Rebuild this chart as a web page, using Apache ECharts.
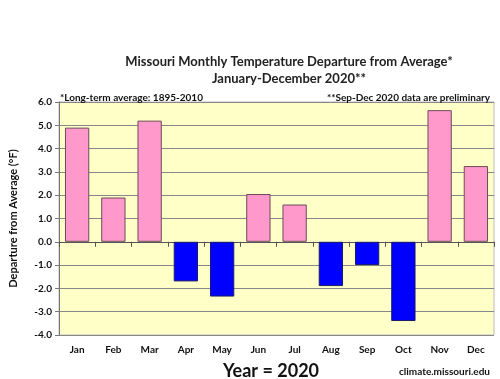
<!DOCTYPE html>
<html><head><meta charset="utf-8">
<script src="https://cdn.jsdelivr.net/npm/echarts@6/dist/echarts.min.js"></script>
<style>html,body{margin:0;padding:0;background:#fff}#c{width:500px;height:379px}</style>
</head><body><div id="c"></div>
<script>
const months = ['Jan','Feb','Mar','Apr','May','Jun','Jul','Aug','Sep','Oct','Nov','Dec'];
const departures = [4.9, 1.9, 5.2, -1.7, -2.35, 2.05, 1.6, -1.9, -1.0, -3.4, 5.65, 3.25];
const yTicks = {min: -4, max: 6, step: 1};
const titleLines = ['Missouri Monthly Temperature Departure from Average*', 'January-December 2020**'];
const noteLeft = '*Long-term average: 1895-2010';
const noteRight = '**Sep-Dec 2020 data are preliminary';
const yName = 'Departure from Average (°F)';
const xName = 'Year = 2020';
const credit = 'climate.missouri.edu';

const F = 'Lato, "Open Sans", sans-serif';
const chart = echarts.init(document.getElementById('c'), null, {renderer: 'canvas'});
chart.setOption({
  backgroundColor: '#ffffff',
  animation: false,
  title: [
    {text: titleLines.join('\n'), left: 284, textAlign: 'center', top: 48,
     textStyle: {fontFamily: F, fontSize: 13, fontWeight: 'bold', color: '#222', lineHeight: 17}},
    {text: noteLeft, left: 55, top: 88, textStyle: {fontFamily: F, fontSize: 10, fontWeight: 'bold', color: '#111'}},
    {text: noteRight, right: 5, top: 88, textStyle: {fontFamily: F, fontSize: 10, fontWeight: 'bold', color: '#111'}},
    {text: xName, left: 266, textAlign: 'center', top: 357, textStyle: {fontFamily: F, fontSize: 18, fontWeight: 'bold', color: '#111'}},
    {text: credit, right: 5, top: 362, textStyle: {fontFamily: F, fontSize: 10, fontWeight: 'bold', color: '#111'}}
  ],
  grid: {left: 54, right: 6, top: 102, bottom: 44, show: true, backgroundColor: '#FFFFC8', borderColor: '#bbbbbb', borderWidth: 1},
  xAxis: [
    {type: 'category', data: months, position: 'bottom',
     axisLine: {onZero: true, lineStyle: {color: '#555', width: 1}},
     axisTick: {show: true, inside: false, length: 5, lineStyle: {color: '#555'}},
     axisLabel: {show: false}, splitLine: {show: false}},
    {type: 'category', data: months, position: 'bottom',
     axisLine: {show: false}, axisTick: {show: false},
     axisLabel: {show: true, margin: 10, fontFamily: F, fontSize: 10, fontWeight: 'bold', color: '#111'}}
  ],
  yAxis: {
    type: 'value', min: yTicks.min, max: yTicks.max, interval: yTicks.step,
    name: yName, nameLocation: 'middle', nameGap: 40, nameRotate: 90,
    nameTextStyle: {fontFamily: F, fontSize: 11, fontWeight: 'bold', color: '#111'},
    axisLine: {show: true, lineStyle: {color: '#777'}},
    axisTick: {show: true, length: 4, lineStyle: {color: '#777'}},
    axisLabel: {fontFamily: F, fontSize: 10, fontWeight: 'bold', color: '#111', margin: 7,
                formatter: v => v.toFixed(1)},
    splitLine: {show: true, lineStyle: {color: '#888', width: 1}}
  },
  series: [{
    type: 'bar', xAxisIndex: 0,
    data: departures.map(v => ({value: v, itemStyle: {color: v >= 0 ? '#FF99CC' : '#0000FF', borderColor: v >= 0 ? '#6b4b5b' : '#1a1a66', borderWidth: 1}})),
    barCategoryGap: '33%'
  }]
});
</script></body></html>
